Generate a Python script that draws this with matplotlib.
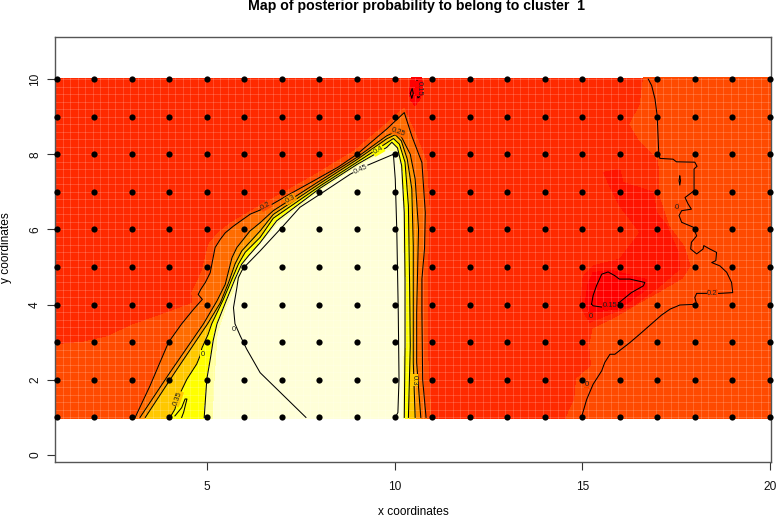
import numpy as np
import matplotlib
matplotlib.use("Agg")
import matplotlib.pyplot as plt

plt.rcParams['font.family'] = ['Liberation Sans', 'DejaVu Sans']

p20a_x = [3.09,3.49,3.98,4.33,4.64,4.88,4.77,4.84,4.96,5.09,5.22,5.36,5.49,5.71,6.16,6.60,7.26,7.93,8.5,9,9.79,10.26,10.46,10.73,10.82,10.8,10.73,10.73,10.75,10.84]
p20a_y = [1,1.85,3.0,3.49,3.87,4.14,4.27,4.41,4.59,4.85,5.52,5.74,5.91,6.09,6.41,6.59,6.97,7.34,7.66,8,8.67,9.11,8.49,7.78,6.45,5.5,4.68,3.8,2.0,1]
p20b_x = [16.76,16.85,16.94,17.0,17.04,17.07,17.42,17.51,18.0,18.06,17.98,17.98,17.74,17.82,17.91,17.65,17.58,17.65,17.96,18.05,17.91,17.89,18.05,18.22,18.24,18.4,18.58,18.56,18.45,18.67,18.85,18.98,19.01,18.67,18.05,18.0,18.05,17.6,17.34,17.11,16.54,16.27,15.87,15.74,15.6,15.52,15.29,15.12,14.98]
p20b_y = [10,9.83,9.47,9.0,8.01,7.89,7.87,7.80,7.79,7.68,7.61,7.03,6.85,6.68,6.54,6.5,6.37,6.19,6.06,5.83,5.66,5.48,5.35,5.48,5.57,5.48,5.39,5.17,5.12,5.03,4.86,4.59,4.32,4.3,4.3,4.19,4.01,3.99,3.88,3.72,3.22,2.99,2.68,2.68,2.46,2.24,1.88,1.48,1]
p20c_x = [17.6,17.62,17.6,17.58,17.6]
p20c_y = [7.42,7.3,7.18,7.3,7.42]
p25_x = [3.22,4.02,4.91,5.27,5.49,5.67,5.8,6.15,6.42,6.77,8.02,9.0,9.79,10.02,10.19,10.42,10.55,10.64,10.59,10.59,10.70]
p25_y = [1,2.2,3.49,4.1,4.54,5.25,5.52,5.96,6.18,6.5,7.30,7.92,8.49,8.60,8.45,8.0,7.34,6.01,3.79,2.46,1]
p30_x = [3.36,4.15,5.02,5.36,5.58,5.75,5.93,6.42,6.77,8.02,9.0,9.79,10.02,10.18,10.34,10.46,10.50,10.50,10.50,10.55]
p30_y = [1,2.2,3.49,4.05,4.59,5.08,5.43,5.96,6.4,7.23,7.86,8.41,8.52,8.36,7.87,7.08,5.57,3.79,2.46,1]
p35_x = [4.02,4.15,4.22,4.47,4.73,4.82,4.87,5.03,5.13,5.44,5.67,5.84,6.02,6.42,6.77,8.02,9.0,9.79,9.97,10.13,10.28,10.37,10.40,10.42,10.37]
p35_y = [1,1.22,1.50,2.02,2.42,2.64,2.85,3.2,3.49,4.14,4.68,5.08,5.39,5.79,6.3,7.16,7.79,8.30,8.42,8.27,7.79,6.63,4.68,2.9,1]
p35b_x = [4.15,4.33,4.42,4.47,4.38,4.33]
p35b_y = [1.04,1.26,1.49,1.49,1.13,1.0]
p40_x = [4.93,5.0,5.1,5.17,5.27,5.53,5.75,5.93,6.11,6.42,6.86,8.02,9.0,9.79,9.93,10.08,10.19,10.26,10.28,10.28,10.26]
p40_y = [1,2.02,2.6,3.05,3.49,4.14,4.68,5.08,5.3,5.65,6.23,7.10,7.73,8.18,8.32,8.17,7.70,6.45,4.68,2.9,1]
p45_x = [7.64,6.42,6.06,5.89,5.75,5.71,5.8,5.84,5.93,6.0,6.42,7.04,7.48,8.11,8.82,9.26,9.97,10.02,10.06,10.10,10.12,10.09,10.02]
p45_y = [1,2.19,2.82,3.17,3.49,3.92,4.45,4.72,4.9,5,5.43,6.10,6.59,7.0,7.47,7.70,8.0,7.34,6.01,3.79,2.02,1.13,1]
p15_x = [15.25,15.29,15.38,15.52,15.69,15.87,15.99,16.27,16.67,16.63,16.31,15.99,15.56,15.29,15.25]
p15_y = [4.01,4.24,4.5,4.81,4.87,4.77,4.68,4.68,4.59,4.5,4.32,4.06,3.93,3.97,4.01]
p15b_x = [10.46,10.42,10.47,10.5,10.46]
p15b_y = [9.5,9.62,9.75,9.62,9.5]
p15c_x = [10.6,10.66,10.66,10.62,10.6]
p15c_y = [9.95,9.9,9.52,9.5,9.95]
# edges of the colour bands that no drawn curve follows
p185a_x = [0.955,1.7,2.34,3.03,3.94,4.63,4.6,4.72,4.88,5.05,5.3,5.65,6.55,7.88,8.95,9.75,10.25,10.57,10.85,10.93,10.87,10.87,10.97]
p185a_y = [2.93,3.0,3.14,3.46,3.78,4.04,4.3,4.55,4.9,5.6,5.9,6.18,6.7,7.45,8.1,8.78,9.22,8.5,7.8,6.45,4.7,2.9,1]
p185b_x = [16.63,16.54,16.27,16.54,17.02,17.07,17.07,17.34,17.74,17.91,17.69,17.07,16.45,15.83,15.29,15.2,15.25,14.85,14.8,14.58]
p185b_y = [10,9.29,8.8,8.36,7.87,7.52,6.9,6.1,5.57,5.03,4.68,4.32,3.97,3.61,3.35,2.9,2.37,2.02,1.48,1]
p165_x = [15.56,16.0,16.09,16.89,16.98,17.25,17.56,17.6,17.07,16.36,15.83,15.2,14.94,15.03,15.29,16.0,16.54,16.0]
p165_y = [7.52,7.6,7.25,6.99,6.45,6.1,5.39,4.95,4.5,3.97,3.79,3.53,3.97,4.77,5.03,5.21,5.92,6.63]
p157_x = [15.12,15.07,15.2,15.56,16.09,16.71,16.71,16.18,15.74,15.29,15.16]
p157_y = [4.32,4.01,3.79,3.83,3.96,4.41,4.67,4.81,4.92,4.85,4.58]
p157b_x = [10.45,10.72,10.7,10.55,10.42,10.4]
p157b_y = [10.03,10.03,9.5,9.3,9.45,9.7]
p41_x = [5.17,5.22,5.3,5.55,5.85,6.05,6.9,8.05,9.0,9.8,10.05,10.15,10.22,10.23,10.23,10.2]
p41_y = [1,2,3.2,3.95,4.6,5.15,6.15,7.03,7.65,8.1,8.05,7.6,6.4,4.7,2.9,1]

grid_x = list(range(1, 21))
grid_y = list(range(1, 11))
x_ticks = [5, 10, 15, 20]
y_ticks = [0, 2, 4, 6, 8, 10]

col_bg, col_a, col_b, col_c = '#FF2A00', '#FF1400', '#FF0000', '#FF4A00'
col_20, col_25, col_30, col_35, col_40, col_41 = '#FF6C00', '#FF9400', '#FFC800', '#FFFF00', '#FFFFA0', '#FFFFD8'

labels = [(6.57,6.63,'0.2',30,col_c),(7.22,6.81,'0.3',30,col_25),(10.1,8.6,'0.25',-20,col_20),
          (9.57,8.1,'0.4',30,col_35),(9.1,7.59,'0.45',25,col_41),(4.22,1.5,'0.35',70,col_30),
          (10.52,2.0,'0.3',-90,col_30),(18.47,4.3,'0.2',0,col_c),(15.75,3.97,'0.15',0,col_b),
          (5.71,3.33,'0',0,col_41),(4.89,2.68,'0',0,col_35),(17.51,6.59,'0',0,col_c),
          (15.22,3.69,'0',0,col_a),(15.12,1.87,'0',0,col_c),(10.66,9.75,'0.15',-90,col_b)]

xmin, xmax, ybot, ytop = 0.955, 20.03, 0.97, 10.03

fig = plt.figure(figsize=(7.76, 5.18), dpi=100)
ax = fig.add_axes([55/776, 1-462/518, (771-55)/776, (462-37)/518])

def patch(px, py, colour, z):
    ax.fill(px, py, color=colour, lw=0, zorder=z, antialiased=False)

def wedge(px, py, colour, z):
    # curve that starts and ends on the lower edge of the raster
    patch([px[0]] + px + [px[-1]], [ybot] + py + [ybot], colour, z)

patch([xmin, xmax, xmax, xmin], [ybot, ybot, ytop, ytop], col_bg, 1.0)
patch([xmin] + p185a_x + [p185a_x[-1], xmin], [p185a_y[0]] + p185a_y + [ybot, ybot], col_c, 1.1)
patch([p185b_x[0]] + p185b_x + [p185b_x[-1], xmax, xmax], [ytop] + p185b_y + [ybot, ybot, ytop], col_c, 1.1)
patch(p165_x, p165_y, col_a, 1.2)
patch(p157_x, p157_y, col_b, 1.3)
patch(p157b_x, p157b_y, col_b, 1.3)
wedge(p20a_x, p20a_y, col_20, 1.4)
wedge(p25_x, p25_y, col_25, 1.5)
wedge(p30_x, p30_y, col_30, 1.6)
wedge(p35_x, p35_y, col_35, 1.7)
wedge(p40_x, p40_y, col_40, 1.8)
wedge(p41_x, p41_y, col_41, 1.9)

for s in np.arange(xmin, xmax, 0.2):
    ax.plot([s, s], [ybot, ytop], color='white', lw=0.6, alpha=0.2, zorder=2)
for s in np.arange(1.0, ytop, 0.2):
    ax.plot([xmin, xmax], [s, s], color='white', lw=0.6, alpha=0.2, zorder=2)

for cx, cy in [(p20a_x,p20a_y),(p20b_x,p20b_y),(p20c_x,p20c_y),(p25_x,p25_y),(p30_x,p30_y),(p35_x,p35_y),
               (p35b_x,p35b_y),(p40_x,p40_y),(p45_x,p45_y),(p15_x,p15_y),(p15b_x,p15b_y),(p15c_x,p15c_y)]:
    ax.plot(cx, cy, color='black', lw=0.75, zorder=3, solid_joinstyle='round')

for lx, ly, txt, rot, col in labels:
    ax.text(lx, ly, txt, fontsize=5.5, rotation=rot, ha='center', va='center', zorder=4, color='#222222',
            rotation_mode='anchor', bbox=dict(facecolor=col, edgecolor='none', pad=0.4))
gx, gy = np.meshgrid(grid_x, grid_y)
ax.scatter(gx.ravel(), gy.ravel(), s=20, c='black', linewidths=0, zorder=5, clip_on=False)

ax.set_xlim(xmin, xmax)
ax.set_ylim(-0.186, 11.12)
ax.set_xticks(x_ticks)
ax.set_yticks(y_ticks)
ax.tick_params(axis='both', length=5.5, width=0.8, color='#333333', labelsize=8.6, labelcolor='#111111')
ax.tick_params(axis='x', pad=8)
ax.tick_params(axis='y', pad=4.5)
plt.setp(ax.get_yticklabels(), rotation=90, va='center')
for sp in ax.spines.values():
    sp.set_linewidth(1.0); sp.set_color('#555555')
fig.text(416/776, 1-6/518, 'Map of posterior probability to belong to cluster  1', ha='center', va='center',
         fontsize=10.2, fontweight='bold')
fig.text(413/776, 1-512/518, 'x coordinates', ha='center', va='center', fontsize=8.6)
fig.text(6/776, 1-248/518, 'y coordinates', ha='center', va='center', rotation=90, fontsize=8.6)
fig.savefig('out.png', dpi=100)
